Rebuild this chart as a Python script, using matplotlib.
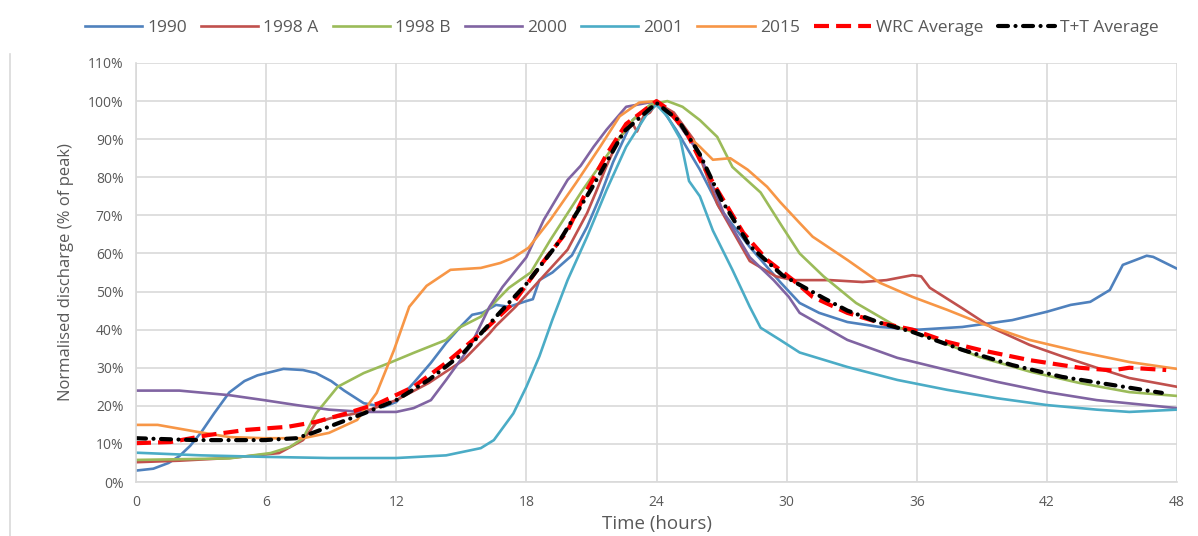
import matplotlib
matplotlib.use("Agg")
import matplotlib.pyplot as plt
import matplotlib.ticker as ticker
from matplotlib.lines import Line2D

# hours / normalised discharge (% of peak)
t_1990 = [0, 0.8, 1.5, 2, 2.5, 3, 3.6, 4.3, 5, 5.6, 6.8, 7.7, 8.3, 9, 9.6, 10.5, 11.4, 12, 12.8, 13.6, 14.3,
          15, 15.5, 16, 16.6, 17.2, 18, 18.3, 18.6, 19.2, 20.1, 20.8, 21.4, 22, 22.9, 23.5, 24, 24.9, 26, 26.9,
          28.3, 29.7, 30.6, 31.5, 32.8, 34.3, 36.1, 38.1, 40.4, 42, 43.1, 44, 44.9, 45.5, 46.1, 46.6, 46.9, 48]
v_1990 = [3, 3.5, 5, 6.8, 9.5, 13, 18, 23.5, 26.5, 28, 29.7, 29.4, 28.6, 26.5, 24, 20.7, 19.7, 21, 26, 31.3, 36.5,
          41, 43.9, 44.5, 46.5, 46, 47.5, 48, 53, 55, 59.5, 67, 75, 84, 95, 98, 100, 92.5, 82, 72,
          61.7, 52.5, 47, 44.4, 42, 40.7, 40, 40.7, 42.5, 44.7, 46.5, 47.3, 50.4, 57, 58.3, 59.4, 59.1, 56]

t_1998a = [0, 2, 4.3, 6.6, 7.7, 8.3, 9, 10.5, 12, 13.5, 15.1, 16.3, 16.6, 17.5, 18.3, 19.1, 19.9, 20.8, 21.2,
           21.7, 22.3, 22.9, 23.1, 23.4, 23.7, 24, 24.8, 25.7, 26.8, 28.3, 29.5, 30.3, 32, 33.5, 34.6, 35.8,
           36.2, 36.6, 38.1, 39.5, 41.2, 42.7, 44.3, 45.8, 48]
v_1998a = [5.2, 5.6, 6.3, 7.6, 11, 15.5, 16.8, 18.4, 21.5, 26, 32, 39, 41, 46, 51, 56, 61, 70.6, 76,
           83, 90.6, 94, 92, 96, 97, 99.6, 97, 90, 73, 58, 54, 53, 53, 52.5, 53, 54.3,
           54, 51, 45.6, 40.4, 36, 33, 30, 27.3, 25]

t_1998b = [0, 4.3, 6.2, 7.1, 7.7, 8.3, 9.3, 10.5, 11.7, 12.8, 14.3, 14.9, 15.9, 17.2, 18.2, 19.1, 20.6, 22,
           22.9, 23.7, 24.5, 25.2, 26, 26.8, 27.5, 28.8, 29.8, 30.6, 31.7, 33.2, 35.1, 36.6, 38.9, 41.2,
           43.5, 45.8, 48]
v_1998b = [5.8, 6.2, 7.6, 9.2, 11.5, 18, 25, 28.6, 31.3, 33.9, 37.3, 40.5, 43.4, 51, 55, 63.5, 76.7, 88,
           95, 99, 100, 98.5, 95, 90.6, 82.7, 76, 67, 60, 54, 47, 40.7, 38, 32.8, 29,
           26, 23.6, 22.6]

t_2000 = [0, 2, 4.3, 5.9, 7.4, 8.9, 10.5, 12, 12.8, 13.6, 14.3, 15.4, 16.3, 16.9, 18, 18.8, 19.9, 20.5, 21.1,
          21.7, 22.6, 24, 24.9, 26, 27.1, 28.3, 29.4, 30.1, 30.6, 32.8, 35.1, 37.4, 39.7, 42, 44.3, 48]
v_2000 = [24, 24, 22.8, 21.5, 20.2, 19, 18.4, 18.4, 19.4, 21.5, 26.8, 35.5, 46, 51.2, 59, 68.8, 79.3, 83, 88,
          92.5, 98.5, 100, 95, 86, 70.6, 59, 53, 48.6, 44.4, 37.3, 32.6, 29.4, 26.3, 23.6, 21.5, 19.4]

t_2001 = [0, 3, 6, 8.9, 12, 14.3, 15.9, 16.5, 17.4, 18, 18.6, 19.2, 19.9, 20.8, 21.7, 22.6, 23.6, 24, 24.5,
          25.1, 25.5, 26, 26.6, 27.5, 28.3, 28.8, 29.7, 30.6, 32.8, 35.1, 37.4, 39.7, 42, 44.3, 45.8, 48]
v_2001 = [7.7, 7, 6.6, 6.3, 6.3, 7, 8.9, 11, 18, 25, 33, 42.6, 53, 64.4, 76.7, 88, 97, 99, 96,
          90, 79, 75, 66, 55.7, 46, 40.5, 37.3, 34, 30.2, 26.8, 24.2, 22, 20.2, 19, 18.4, 19]

t_2015 = [0, 1, 2.8, 4.3, 5.9, 7.7, 8.9, 10.2, 11.1, 11.9, 12.6, 13.4, 14.5, 15.9, 16.8, 17.4, 18.1, 19.1,
          20.3, 21.4, 22.3, 23.2, 24, 24.8, 25.5, 26, 26.6, 27.4, 28.2, 29.1, 29.7, 30.6, 31.2, 32.8, 34.3,
          35.8, 37.4, 38.9, 41.2, 43.5, 45.8, 48]
v_2015 = [15, 15, 13.2, 11.8, 11.5, 11.5, 12.9, 16.3, 23.4, 34.7, 46, 51.5, 55.7, 56.2, 57.5, 58.9, 61.5, 68.8,
          78.6, 88, 96, 99.6, 100, 96, 90.6, 88, 84.6, 85, 82, 77.5, 73.5, 68, 64.4, 58.3, 52.3,
          48.6, 45.2, 41.8, 37.3, 34.2, 31.5, 29.7]

t_wrc = [0, 1.6, 3.3, 5.1, 7, 8.3, 9.7, 11.2, 12.8, 14.3, 15.9, 17.4, 18.6, 19.9, 20.8, 21.7, 22.6, 24, 24.5,
         25.4, 26, 26.8, 28, 29.1, 30.3, 31.2, 32.8, 34.3, 35.8, 37.4, 38.9, 41.2, 43.5, 45, 45.8, 47.5]
v_wrc = [10.2, 10.5, 12.3, 13.7, 14.5, 15.8, 18, 20.7, 25, 31.3, 39, 47, 56.5, 66, 76.7, 86, 94, 100, 98,
         91.6, 84.6, 76.7, 65.4, 58.3, 53, 48.6, 44.4, 41.8, 40, 36.8, 34.7, 32, 30, 29.3, 30, 29.4]

t_tt = [0, 2.8, 5.9, 7.4, 8.2, 10.5, 12, 13.5, 15.1, 16.6, 18, 19.5, 21, 22.5, 24, 25, 26, 27, 28.3, 29.8,
        31.7, 32.8, 34.3, 35.8, 38.1, 40.4, 42.7, 45, 47.3]
v_tt = [11.5, 11, 11, 11.5, 13, 18, 21.5, 26.8, 33.9, 43.4, 52, 63, 77, 92, 99.5, 95, 86, 74, 62, 54.3,
        48.3, 45, 41.8, 39.4, 34.7, 30.7, 27.6, 25.5, 23.4]

plt.rcParams['font.family'] = ['Open Sans', 'DejaVu Sans']
grey = '#595959'

fig = plt.figure(figsize=(11.98, 5.36), dpi=100)
ax = fig.add_axes([0.1135, 0.1007, 0.869, 0.7818])

ax.plot(t_1990, v_1990, color='#4F81BD', lw=1.9, label='1990')
ax.plot(t_1998a, v_1998a, color='#C0504D', lw=1.9, label='1998 A')
ax.plot(t_1998b, v_1998b, color='#9BBB59', lw=1.9, label='1998 B')
ax.plot(t_2000, v_2000, color='#8064A2', lw=1.9, label='2000')
ax.plot(t_2001, v_2001, color='#4BACC6', lw=1.9, label='2001')
ax.plot(t_2015, v_2015, color='#F79646', lw=1.9, label='2015')
ax.plot(t_wrc, v_wrc, color='#FF0000', lw=3, dashes=(3.6, 1.7), label='WRC Average')
ax.plot(t_tt, v_tt, color='black', lw=3, dashes=(2.4, 1.8, 0.01, 1.8),
        dash_capstyle='round', label='T+T Average')

ax.set_xlim(0, 48)
ax.set_ylim(0, 110)
ax.set_xticks(range(0, 49, 6))
ax.set_yticks(range(0, 111, 10))
ax.yaxis.set_major_formatter(ticker.FuncFormatter(lambda y, _: f'{y:.0f}%'))
ax.grid(True, color='#D9D9D9', lw=1.2)
ax.set_axisbelow(True)
for s in ['top', 'right']:
    ax.spines[s].set_visible(False)
for s in ['left', 'bottom']:
    ax.spines[s].set_color('#D9D9D9')
    ax.spines[s].set_linewidth(1.2)
ax.tick_params(length=0, labelsize=10, colors=grey, pad=9)

ax.set_xlabel('Time (hours)', fontsize=13.5, color=grey, labelpad=4)
ax.set_ylabel('Normalised discharge (% of peak)', fontsize=12, color=grey, labelpad=10)

fig.legend(loc='center', bbox_to_anchor=(0.519, 0.948), ncol=8, frameon=False, fontsize=12.5,
           handlelength=3.3, columnspacing=0.8, handletextpad=0.3, labelcolor=grey)

fig.add_artist(Line2D([0.0085, 0.0085], [0.0, 0.9], color='#D9D9D9', lw=1.2))

plt.savefig('out.png', dpi=100)
